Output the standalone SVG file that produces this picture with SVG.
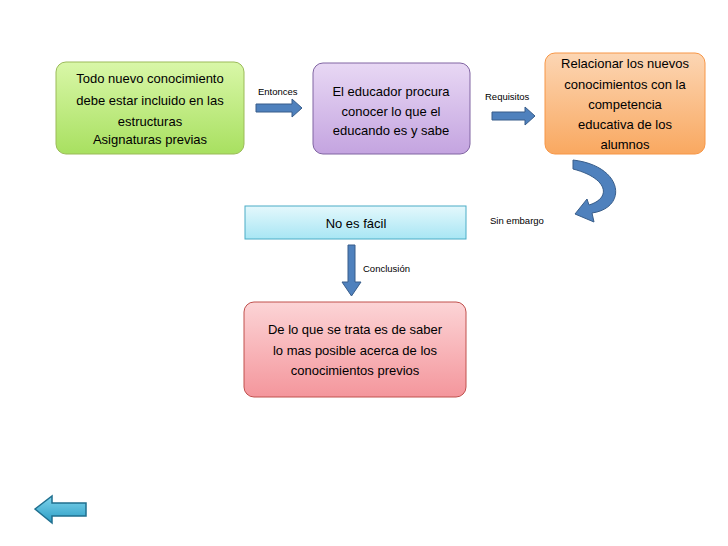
<svg xmlns="http://www.w3.org/2000/svg" width="728" height="546" viewBox="0 0 728 546">
<defs>
<linearGradient id="gG" x1="0" y1="0" x2="0" y2="1"><stop offset="0" stop-color="#d9f7a8"/><stop offset="1" stop-color="#a8e060"/></linearGradient>
<linearGradient id="gP" x1="0" y1="0" x2="0" y2="1"><stop offset="0" stop-color="#e8d8f4"/><stop offset="1" stop-color="#c4a4e0"/></linearGradient>
<linearGradient id="gO" x1="0" y1="0" x2="0" y2="1"><stop offset="0" stop-color="#fcd6b4"/><stop offset="1" stop-color="#f9a860"/></linearGradient>
<linearGradient id="gC" x1="0" y1="0" x2="0" y2="1"><stop offset="0" stop-color="#e4f8fc"/><stop offset="1" stop-color="#a8e6f4"/></linearGradient>
<linearGradient id="gR" x1="0" y1="0" x2="0" y2="1"><stop offset="0" stop-color="#fcd4d6"/><stop offset="1" stop-color="#f4969c"/></linearGradient>
<linearGradient id="gB" x1="0" y1="0" x2="0" y2="1"><stop offset="0" stop-color="#7fd4ec"/><stop offset="1" stop-color="#2a9cc4"/></linearGradient>
</defs>
<style>
.t{font-family:"Liberation Sans",Arial,sans-serif;font-size:13px;fill:#000;text-anchor:middle}
.s{font-family:"Liberation Sans",Arial,sans-serif;font-size:9.5px;fill:#000}
.arr{fill:#4f81bd;stroke:#385d8a;stroke-width:1}
</style>
<rect width="728" height="546" fill="#fff"/>
<g id="n1"><rect x="56" y="62" width="188" height="92" rx="10" fill="url(#gG)" stroke="#9bbb59"/>
<text class="t" x="150" y="83">Todo nuevo conocimiento</text><text class="t" x="150" y="105">debe estar incluido en las</text><text class="t" x="150" y="126">estructuras</text><text class="t" x="150" y="144">Asignaturas previas</text></g>
<g id="n2"><rect x="313" y="63" width="157" height="91" rx="10" fill="url(#gP)" stroke="#8064a2"/>
<text class="t" x="391" y="96">El educador procura</text><text class="t" x="391" y="116">conocer lo que el</text><text class="t" x="391" y="135">educando es y sabe</text></g>
<g id="n3"><rect x="545" y="53" width="160" height="101" rx="10" fill="url(#gO)" stroke="#f79646"/>
<text class="t" x="625" y="68">Relacionar los nuevos</text><text class="t" x="625" y="89">conocimientos con la</text><text class="t" x="625" y="109">competencia</text><text class="t" x="625" y="129">educativa de los</text><text class="t" x="625" y="149">alumnos</text></g>
<g id="n4"><rect x="245" y="206" width="221" height="33" fill="url(#gC)" stroke="#4bacc6"/>
<text class="t" x="356" y="228">No es fácil</text></g>
<g id="n5"><rect x="244" y="302" width="222" height="95" rx="10" fill="url(#gR)" stroke="#c0504d"/>
<text class="t" x="355" y="334">De lo que se trata es de saber</text><text class="t" x="355" y="355">lo mas posible acerca de los</text><text class="t" x="355" y="375">conocimientos previos</text></g>
<g id="connectors">
<polygon class="arr" points="256,104 292,104 292,99 302,108 292,117 292,112 256,112"/>
<text class="s" x="258" y="95">Entonces</text>
<polygon class="arr" points="492,112 525,112 525,107 535,116 525,125 525,120 492,120"/>
<text class="s" x="485" y="100">Requisitos</text>
<path class="arr" d="M573,160 C624,166 628,208 592,213 L594,222 L575,214 L587,199 L589,205 C612,198 608,178 573,169 Z"/>
<text class="s" x="490" y="224">Sin embargo</text>
<polygon class="arr" points="348,245 355,245 355,282 361,282 351.5,296 342,282 348,282"/>
<text class="s" x="363" y="272">Conclusión</text>
</g>
<g id="back"><polygon points="35,509 52,496 52,503 86,503 86,516 52,516 52,523" fill="url(#gB)" stroke="#1f6f8f" stroke-width="1.5"/></g>
</svg>
